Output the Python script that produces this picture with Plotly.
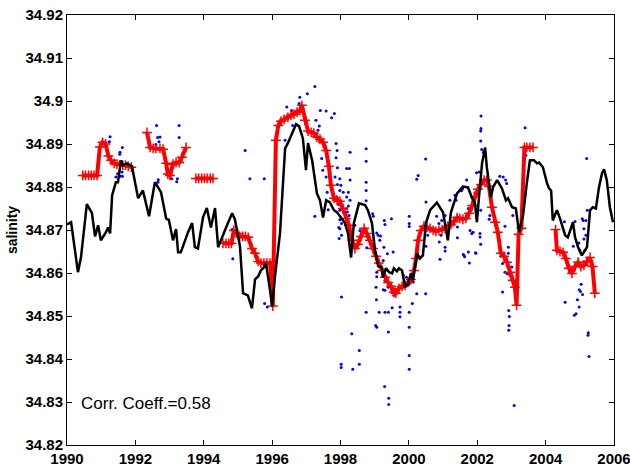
import plotly.graph_objects as go

# ---------------- model (black line) ----------------
model_year = [1990.00,1990.12,1990.32,1990.41,1990.58,1990.73,1990.82,1990.91,1990.99,1991.14,1991.20,1991.26,
1991.32,1991.43,1991.49,1991.58,1991.64,1991.75,1991.90,1992.08,1992.22,1992.40,1992.57,1992.75,1992.90,1992.98,
1993.10,1993.19,1993.25,1993.33,1993.54,1993.66,1993.74,1993.83,1993.98,1994.09,1994.21,1994.33,1994.42,1994.53,
1994.68,1994.83,1994.91,1995.06,1995.15,1995.29,1995.41,1995.50,1995.59,1995.67,1995.76,1995.82,1995.88,1995.94,
1996.00,1996.08,1996.23,1996.38,1996.46,1996.61,1996.70,1996.79,1996.90,1996.99,1997.05,1997.17,1997.31,1997.40,
1997.49,1997.58,1997.69,1997.81,1997.90,1998.13,1998.22,1998.31,1998.39,1998.54,1998.72,1998.80,1998.92,1999.01,
1999.10,1999.21,1999.24,1999.33,1999.42,1999.51,1999.56,1999.65,1999.71,1999.80,1999.89,1999.97,2000.06,2000.12,
2000.24,2000.32,2000.41,2000.50,2000.62,2000.82,2000.91,2001.00,2001.14,2001.23,2001.41,2001.58,2001.73,2001.85,
2001.93,2001.99,2002.05,2002.14,2002.23,2002.28,2002.40,2002.46,2002.58,2002.72,2002.84,2002.90,2003.02,2003.13,
2003.22,2003.34,2003.45,2003.54,2003.66,2003.75,2003.81,2003.92,2004.04,2004.10,2004.16,2004.21,2004.33,2004.42,
2004.57,2004.65,2004.80,2004.86,2004.95,2005.06,2005.21,2005.30,2005.38,2005.47,2005.56,2005.65,2005.71,2005.79,
2005.88,2005.97]
model_sal = [34.8713,34.8718,34.8602,34.8637,34.8760,34.8739,34.8685,34.8711,34.8676,34.8695,34.8706,34.8692,
34.8781,34.8811,34.8811,34.8862,34.8850,34.8855,34.8848,34.8774,34.8792,34.8732,34.8811,34.8788,34.8727,34.8723,
34.8676,34.8702,34.8648,34.8648,34.8695,34.8716,34.8660,34.8657,34.8730,34.8751,34.8706,34.8751,34.8660,34.8683,
34.8711,34.8739,34.8725,34.8662,34.8553,34.8548,34.8518,34.8585,34.8592,34.8606,34.8613,34.8623,34.8595,34.8559,
34.8522,34.8590,34.8692,34.8890,34.8902,34.8932,34.8946,34.8941,34.8913,34.8839,34.8902,34.8862,34.8785,34.8769,
34.8729,34.8769,34.8764,34.8746,34.8741,34.8716,34.8692,34.8636,34.8716,34.8762,34.8758,34.8746,34.8716,34.8653,
34.8616,34.8613,34.8590,34.8611,34.8602,34.8599,34.8611,34.8604,34.8611,34.8606,34.8567,34.8574,34.8599,34.8583,
34.8646,34.8634,34.8641,34.8716,34.8746,34.8764,34.8751,34.8741,34.8676,34.8741,34.8785,34.8801,34.8799,34.8774,
34.8764,34.8718,34.8776,34.8855,34.8892,34.8846,34.8776,34.8799,34.8816,34.8797,34.8769,34.8774,34.8753,34.8750,
34.8695,34.8734,34.8809,34.8862,34.8862,34.8855,34.8857,34.8846,34.8809,34.8797,34.8792,34.8722,34.8746,34.8727,
34.8688,34.8683,34.8718,34.8683,34.8660,34.8641,34.8660,34.8746,34.8753,34.8750,34.8799,34.8832,34.8841,34.8816,
34.8753,34.8718]

# ---------------- smoothed observations (red) ----------------
obs1_year = [1990.46,1990.54,1990.63,1990.71,1990.79,1990.88,1990.96,1991.04,1991.13,1991.21,1991.29,1991.38,
1991.46,1991.54,1991.63,1991.71,1991.79,1991.88]
obs1_sal = [34.8827,34.8827,34.8827,34.8827,34.8827,34.8827,34.8893,34.8904,34.8900,34.8872,34.8862,34.8855,
34.8853,34.8851,34.8851,34.8851,34.8848,34.8846]

obs2_year = [1992.34,1992.43,1992.52,1992.60,1992.72,1992.81,1992.90,1992.95,1993.01,1993.10,1993.19,1993.28,
1993.36,1993.48]
obs2_sal = [34.8927,34.8892,34.8890,34.8890,34.8890,34.8888,34.8855,34.8830,34.8827,34.8853,34.8857,34.8857,
34.8869,34.8892]

obs3_year = [1993.77,1993.85,1993.94,1994.02,1994.10,1994.19,1994.27]
obs3_sal = [34.8820,34.8820,34.8820,34.8820,34.8820,34.8820,34.8820]

obs4_year = [1994.56,1994.65,1994.73,1994.81,1994.88,1994.97,1995.05,1995.14,1995.22,1995.30,1995.41,1995.50,
1995.59,1995.67,1995.76,1995.85,1995.94,1996.02,1996.11,1996.18,1996.26,1996.35,1996.46,1996.55,1996.64,1996.73,
1996.81,1996.87,1996.96,1997.05,1997.14,1997.22,1997.31,1997.40,1997.49,1997.58,1997.66,1997.72,1997.81,1997.90,
1997.98,1998.07,1998.16,1998.25,1998.34,1998.42,1998.51,1998.60,1998.69,1998.77,1998.86,1998.95,1999.04,1999.12,
1999.21,1999.30,1999.39,1999.48,1999.56,1999.62,1999.71,1999.80,1999.89,1999.97,2000.06,2000.15,2000.21,2000.27,
2000.35,2000.44,2000.53,2000.62,2000.71,2000.79,2000.88,2000.97,2001.06,2001.14,2001.23,2001.32,2001.41,2001.49,
2001.58,2001.67,2001.76,2001.85,2001.93,2002.02,2002.11,2002.20,2002.28,2002.34,2002.43,2002.52,2002.60,2002.69,
2002.78,2002.87,2002.96,2003.04,2003.10,2003.15,2003.21,2003.29,2003.38,2003.45,2003.54,2003.63]
obs4_sal = [34.8669,34.8669,34.8669,34.8669,34.8699,34.8692,34.8685,34.8685,34.8685,34.8683,34.8657,34.8646,
34.8627,34.8623,34.8623,34.8623,34.8623,34.8523,34.8909,34.8943,34.8953,34.8957,34.8962,34.8967,34.8969,34.8974,
34.8978,34.8990,34.8955,34.8930,34.8927,34.8925,34.8916,34.8911,34.8904,34.8885,34.8848,34.8804,34.8774,34.8769,
34.8767,34.8750,34.8727,34.8711,34.8676,34.8657,34.8667,34.8685,34.8704,34.8692,34.8676,34.8657,34.8639,34.8623,
34.8606,34.8590,34.8578,34.8569,34.8555,34.8553,34.8564,34.8569,34.8571,34.8578,34.8585,34.8606,34.8634,34.8676,
34.8699,34.8709,34.8706,34.8704,34.8699,34.8697,34.8699,34.8701,34.8704,34.8709,34.8713,34.8720,34.8729,34.8727,
34.8725,34.8727,34.8739,34.8757,34.8778,34.8795,34.8806,34.8816,34.8816,34.8802,34.8753,34.8718,34.8695,34.8646,
34.8639,34.8625,34.8602,34.8583,34.8567,34.8525,34.8690,34.8704,34.8892,34.8892,34.8892,34.8892]

obs5_year = [2004.29,2004.33,2004.42,2004.51,2004.59,2004.68,2004.77,2004.86,2004.95,2005.03,2005.12,2005.21,
2005.30,2005.37,2005.44]
obs5_sal = [34.8701,34.8653,34.8650,34.8648,34.8634,34.8611,34.8599,34.8615,34.8625,34.8615,34.8618,34.8627,
34.8636,34.8615,34.8553]

# ---------------- raw observations (blue dots) ----------------
raw_year = [1991.26,1991.24,1991.55,1991.54,1991.62,1991.43,1991.48,1991.61,1991.62,1991.56,1992.62,1992.65,
1992.72,1992.69,1992.60,1992.67,1992.66,1993.06,1993.21,1993.28,1993.28,1993.23,1995.21,1995.35,1995.77,1994.83,
1994.85,1995.78,1995.86,1996.38,1997.25,1997.03,1996.81,1996.43,1996.57,1996.79,1996.65,1996.60,1997.41,1997.58,
1997.82,1997.74,1997.28,1997.38,1997.34,1997.87,1997.90,1998.28,1997.45,1997.87,1997.48,1998.18,1998.26,1997.91,
1997.58,1997.84,1997.98,1997.91,1998.01,1998.28,1997.61,1997.98,1998.08,1998.23,1997.89,1998.18,1997.64,1997.94,
1998.23,1997.98,1998.20,1998.25,1997.25,1997.98,1998.03,1997.95,1997.98,1998.03,1997.96,1998.03,1998.75,1998.75,
2000.49,2000.27,2000.23,1998.75,1998.75,1998.75,1998.94,1998.96,1999.28,1999.30,1999.49,2000.01,2000.01,2000.01,
2000.50,2000.88,2000.89,2000.94,2001.06,2000.81,2000.96,2001.06,1999.10,1999.17,1999.15,1999.27,1999.37,1999.54,
1999.25,1999.06,1999.06,1999.04,1999.25,1999.30,1999.84,1999.93,2000.00,2000.23,2000.49,2000.10,1999.51,1999.74,
1999.05,1998.75,1999.13,1999.30,1999.40,1999.74,1999.74,2000.01,2000.13,2000.01,1998.42,1998.57,1998.77,1999.06,
1999.40,1999.56,1999.30,1999.03,1999.06,1999.40,2000.01,1998.33,1998.55,1998.55,1998.36,1998.02,1998.02,2000.01,
2000.01,1999.29,1999.41,1999.41,2000.91,2001.06,2001.61,2001.63,2001.77,2001.95,2002.11,2002.11,2002.10,2002.10,
2002.13,2002.18,2003.40,2003.42,2001.98,2002.06,2001.69,2001.57,2001.54,2001.35,2001.38,2001.20,2001.74,2001.93,
2001.90,2002.10,2002.66,2002.76,2002.83,2002.86,2002.37,2002.35,2002.49,2003.04,2002.81,2001.42,2001.79,2001.84,
2001.88,2002.08,2002.08,2002.10,2001.42,2001.59,2001.74,2001.96,2002.91,2002.91,2002.74,2002.92,2002.94,2002.93,
2002.92,2003.08,2002.81,2002.88,2002.94,2002.74,2002.78,2003.01,2005.20,2005.22,2005.18,2004.55,2004.86,2005.07,
2005.10,2005.12,2005.12,2005.18,2004.97,2004.81,2005.15,2005.00,2005.04,2004.98,2005.02,2005.08,2004.93,2004.98,
2004.89,2004.84,2004.57,2005.25,2005.24,2005.27,2000.50,2000.55,1998.18,1998.28]
raw_sal = [34.8917,34.8905,34.8881,34.8876,34.8892,34.8823,34.8831,34.8835,34.8825,34.8825,34.8943,34.8915,
34.8916,34.8905,34.8899,34.8817,34.8811,34.8819,34.8812,34.8943,34.8915,34.8819,34.8885,34.8819,34.8819,34.8701,
34.8633,34.8529,34.8521,34.8909,34.9034,34.9017,34.9009,34.8986,34.8978,34.8994,34.8969,34.8943,34.8978,34.8977,
34.8971,34.8961,34.8955,34.8942,34.8932,34.8901,34.8885,34.8881,34.8866,34.8868,34.8839,34.8843,34.8843,34.8845,
34.8823,34.8823,34.8819,34.8806,34.8804,34.8816,34.8788,34.8792,34.8788,34.8788,34.8777,34.8777,34.8747,34.8760,
34.8756,34.8746,34.8742,34.8734,34.8732,34.8724,34.8715,34.8706,34.8703,34.8688,34.8680,34.8544,34.8889,34.8860,
34.8865,34.8827,34.8818,34.8811,34.8792,34.8768,34.8738,34.8732,34.8722,34.8713,34.8726,34.8732,34.8715,34.8708,
34.8765,34.8715,34.8672,34.8688,34.8660,34.8732,34.8722,34.8734,34.8688,34.8686,34.8676,34.8660,34.8645,34.8649,
34.8629,34.8602,34.8591,34.8567,34.8561,34.8583,34.8595,34.8590,34.8579,34.8552,34.8552,34.8529,34.8519,34.8521,
34.8538,34.8509,34.8509,34.8509,34.8509,34.8509,34.8498,34.8509,34.8579,34.8575,34.8711,34.8699,34.8659,34.8693,
34.8567,34.8548,34.8560,34.8478,34.8474,34.8463,34.8474,34.8459,34.8420,34.8388,34.8376,34.8388,34.8380,34.8408,
34.8376,34.8336,34.8309,34.8294,34.8632,34.8651,34.8641,34.8638,34.8623,34.8647,34.8965,34.8936,34.8930,34.8907,
34.8887,34.8881,34.8938,34.8874,34.8833,34.8835,34.8816,34.8796,34.8791,34.8781,34.8769,34.8769,34.8750,34.8786,
34.8777,34.8746,34.8825,34.8823,34.8816,34.8808,34.8734,34.8725,34.8719,34.8734,34.8709,34.8707,34.8699,34.8692,
34.8695,34.8692,34.8684,34.8667,34.8682,34.8643,34.8649,34.8646,34.8660,34.8646,34.8556,34.8513,34.8499,34.8478,
34.8467,34.8292,34.8602,34.8598,34.8597,34.8622,34.8641,34.8614,34.8866,34.8746,34.8722,34.8719,34.8720,34.8726,
34.8722,34.8703,34.8679,34.8688,34.8670,34.8662,34.8653,34.8653,34.8574,34.8561,34.8557,34.8550,34.8538,34.8521,
34.8505,34.8502,34.8532,34.8461,34.8455,34.8406,34.8662,34.8688,34.8750,34.8769]

y_tickvals = [34.82,34.83,34.84,34.85,34.86,34.87,34.88,34.89,34.90,34.91,34.92]
y_ticktext = ["34.82","34.83","34.84","34.85","34.86","34.87","34.88","34.89","34.9","34.91","34.92"]
x_tickvals = [1990,1992,1994,1996,1998,2000,2002,2004,2006]
corr_text = "Corr. Coeff.=0.58"

# build red trace with gaps between segments
red_x, red_y = [], []
for xs, ys in [(obs1_year, obs1_sal), (obs2_year, obs2_sal), (obs3_year, obs3_sal),
               (obs4_year, obs4_sal), (obs5_year, obs5_sal)]:
    red_x += xs + [None]
    red_y += ys + [None]

fig = go.Figure()
fig.add_trace(go.Scatter(x=raw_year, y=raw_sal, mode="markers",
                         marker=dict(color="#0000FF", size=3, line=dict(width=0)),
                         showlegend=False, hoverinfo="x+y"))
fig.add_trace(go.Scatter(x=red_x, y=red_y, mode="lines+markers",
                         line=dict(color="#FF0000", width=4),
                         marker=dict(symbol="cross-thin", size=7, color="#FF0000",
                                     line=dict(color="#FF0000", width=1.5)),
                         connectgaps=False, showlegend=False))
fig.add_trace(go.Scatter(x=model_year, y=model_sal, mode="lines",
                         line=dict(color="#000000", width=2.5),
                         showlegend=False))

fig.add_annotation(x=1990.34, y=34.8297, xref="x", yref="y", text=corr_text,
                   showarrow=False, xanchor="left", yanchor="middle",
                   font=dict(family="Liberation Sans, Arial", size=17, color="black"))

tickfont = dict(family="Liberation Sans, Arial", size=15, color="black", weight="bold")
titlefont = dict(family="Liberation Sans, Arial", size=14, color="black", weight="bold")
fig.update_xaxes(range=[1990, 2006], tickvals=x_tickvals, ticks="inside", ticklen=5,
                 tickcolor="black", showline=True, linecolor="black", linewidth=1,
                 mirror="ticks", showgrid=False, zeroline=False, tickfont=tickfont,
                 automargin=False, ticklabeloverflow="allow")
fig.update_yaxes(range=[34.82, 34.92], tickvals=y_tickvals, ticktext=y_ticktext,
                 ticks="inside", ticklen=5, tickcolor="black", showline=True,
                 linecolor="black", linewidth=1, mirror="ticks", showgrid=False,
                 zeroline=False, tickfont=tickfont, automargin=False,
                 ticklabeloverflow="allow",
                 title=dict(text="salinity", font=titlefont, standoff=4))
fig.update_layout(width=630, height=469, margin=dict(l=67, r=16, t=15, b=24),
                  plot_bgcolor="white", paper_bgcolor="white", showlegend=False)

# remove the page's default body margin so the 630x469 figure fills the window exactly
fig.write_html("out.html", config={"displayModeBar": False},
               post_script="document.body.style.margin='0px';document.body.style.overflow='hidden';")
